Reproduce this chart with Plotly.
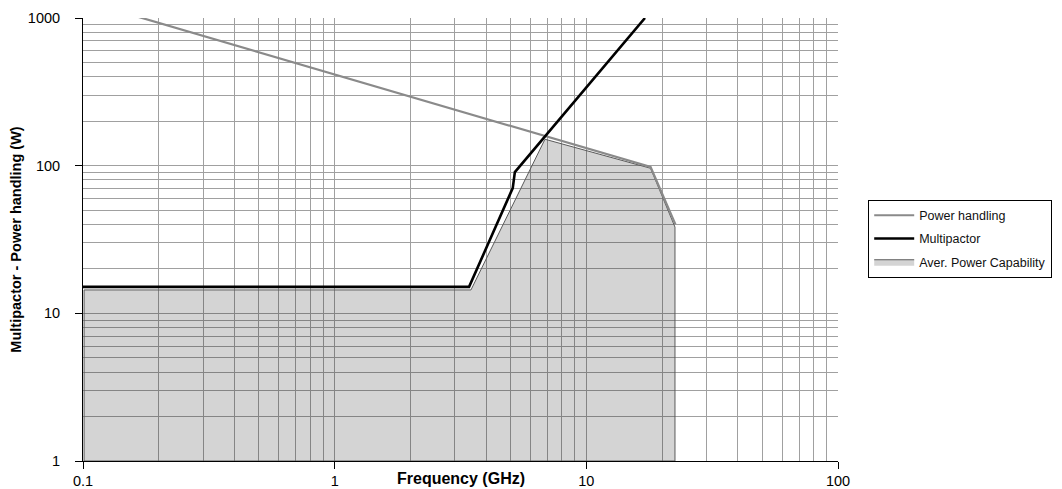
import plotly.graph_objects as go

# Power handling (W) vs frequency (GHz)
ph_freq = [0.1, 18.0, 22.6]
ph_power = [1310, 98, 40]

# Multipactor threshold
mp_freq = [0.1, 3.42, 5.1, 5.2, 17.1]
mp_power = [15.1, 15.1, 70.5, 90.5, 1000]

# Average power capability (filled area outline)
ap_freq = [0.101, 0.101, 3.48, 6.85, 18.0, 22.5, 22.5, 0.101]
ap_power = [1.0, 14.4, 14.4, 151, 96, 38.4, 1.0, 1.0]

x_ticks = [0.1, 1, 10, 100]
x_tick_text = ["0.1", "1", "10", "100"]
y_ticks = [1, 10, 100, 1000]
y_tick_text = ["1", "10", "100", "1000"]

FONT = "Liberation Sans, Arial, sans-serif"

fig = go.Figure()

fig.add_trace(go.Scatter(
    x=ap_freq, y=ap_power, mode="lines", fill="toself",
    fillcolor="rgba(0,0,0,0.17)", line=dict(color="#5a5a5a", width=1),
    name="Aver. Power Capability", legendrank=3, legendgroup="c",
))
fig.add_trace(go.Scatter(
    x=ph_freq, y=ph_power, mode="lines",
    line=dict(color="#8a8a8a", width=2.2),
    name="Power handling", legendrank=1, legendgroup="a",
))
fig.add_trace(go.Scatter(
    x=mp_freq, y=mp_power, mode="lines",
    line=dict(color="#000000", width=2.6),
    name="Multipactor", legendrank=2, legendgroup="b",
))

grid_col = "#a0a0a0"
axis_common = dict(
    showgrid=True, gridcolor=grid_col, gridwidth=1,
    minor=dict(dtick="D1", showgrid=True, gridcolor=grid_col, gridwidth=1, ticks=""),
    showline=True, linecolor="#000000", linewidth=1,
    ticks="outside", ticklen=7, tickcolor="#000000",
    tickfont=dict(family=FONT, size=14.5, color="#000000"),
    zeroline=False, automargin=False,
)
fig.update_xaxes(type="log", range=[-1, 2], tickvals=x_ticks, ticktext=x_tick_text,
                 **axis_common)
fig.update_yaxes(
    type="log", range=[0, 3], tickvals=y_ticks, ticktext=y_tick_text,
    ticklabelstandoff=12,
    title=dict(text="<b>Multipactor - Power handling (W)</b>",
               font=dict(family=FONT, size=14.5, color="#000000"), standoff=5),
    **axis_common,
)

fig.add_annotation(
    text="<b>Frequency (GHz)</b>", xref="paper", yref="paper",
    x=0.5, y=-0.04, xanchor="center", yanchor="middle", showarrow=False,
    font=dict(family=FONT, size=16, color="#000000"),
)

# The page body adds an 8px offset, so the figure is sized/margined to compensate
fig.update_layout(
    width=1054, height=481,
    margin=dict(l=75, r=224, t=10, b=28),
    paper_bgcolor="#ffffff", plot_bgcolor="#ffffff",
    showlegend=True,
    legend=dict(
        x=1.04, y=0.59, xanchor="left", yanchor="top",
        bordercolor="#000000", borderwidth=1,
        font=dict(family=FONT, size=12.5, color="#111111"),
        bgcolor="#ffffff", itemwidth=40,
        traceorder="grouped", tracegroupgap=4,
    ),
)

fig.write_html("out.html")
